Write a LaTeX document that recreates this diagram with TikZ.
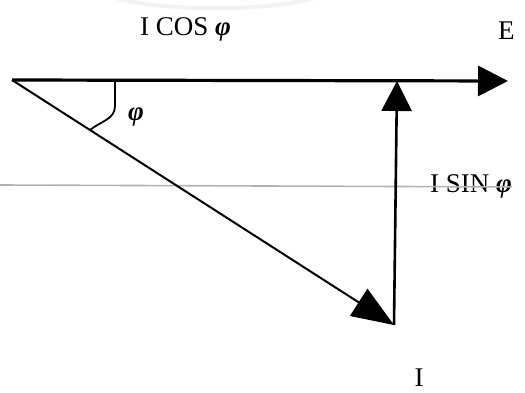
\documentclass[tikz,border=0pt]{standalone}
\usepackage{fontspec}
\setmainfont{Liberation Serif}
\usetikzlibrary{arrows.meta}
\newcommand{\ph}{\textbf{\textit{φ}}}
\tikzset{
    vec/.style={draw,line width=2.6pt,-{Triangle[length=30pt,width=30pt]}},
    lbl/.style={font=\fontsize{27}{30}\selectfont,inner sep=0pt},
    guide/.style={draw=gray!60,line width=1.6pt},
    haze/.style={draw=gray!10,line width=4pt},
}
\begin{document}
\begin{tikzpicture}[x=1pt,y=-1pt]
    \useasboundingbox (0,0) rectangle (525,393);
    \draw[haze] (112,-3) .. controls (160,12) and (270,12) .. (318,-3);

    \coordinate (o) at (12,80);
    \coordinate (e) at (508,81);
    \coordinate (i) at (394,325);
    \coordinate (top) at (397,81);
    \coordinate (lft) at (0,185);

    \node[lbl,anchor=base west] (cos) at (140,36) {I COS \ph};
    \node[lbl,anchor=base west] (elbl) at (498,40) {E};
    \node[lbl,anchor=base west] (sin) at (430,193) {I SIN \ph};
    \node[lbl,anchor=base] (ilbl) at (419,386) {I};
    \node[lbl] (phi) at (136,117) {\ph};

    \draw[guide] (lft) -- (sin.east);
    \path[vec,line width=3.2pt] (o) -- (e);
    \path[vec,line width=2pt,-{Triangle[length=42pt,width=32pt]}] (o) -- (i);
    \path[vec] (i) -- (top);
    \draw[line width=1.8pt] (115,80) -- (115,106) to[out=-90,in=40] (90,130);
\end{tikzpicture}
\end{document}
